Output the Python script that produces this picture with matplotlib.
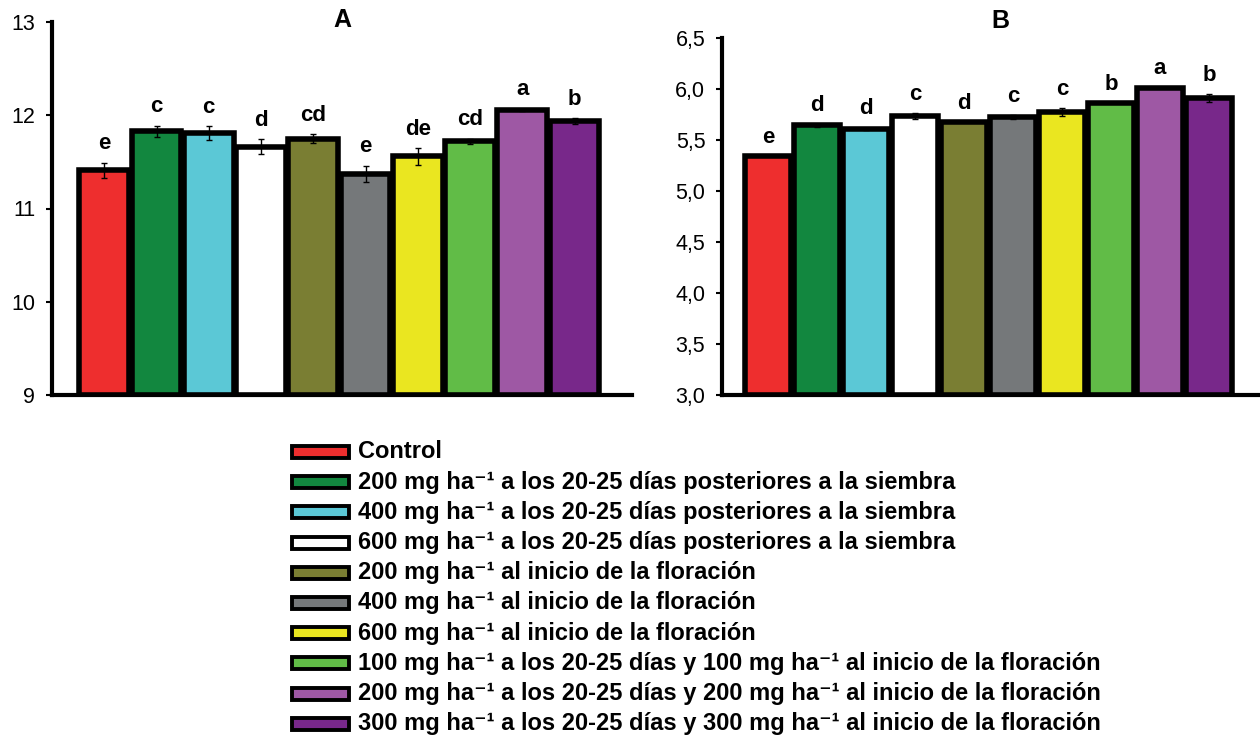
import matplotlib
matplotlib.use("Agg")
import matplotlib.pyplot as plt
from matplotlib.patches import Rectangle
from matplotlib.ticker import FuncFormatter
import numpy as np

plt.rcParams['font.family'] = ['Liberation Sans', 'DejaVu Sans']

# ---------- data ----------
treatments = [
    "Control",
    "200 mg ha⁻¹ a los 20-25 días posteriores a la siembra",
    "400 mg ha⁻¹ a los 20-25 días posteriores a la siembra",
    "600 mg ha⁻¹ a los 20-25 días posteriores a la siembra",
    "200 mg ha⁻¹ al inicio de la floración",
    "400 mg ha⁻¹ al inicio de la floración",
    "600 mg ha⁻¹ al inicio de la floración",
    "100 mg ha⁻¹ a los 20-25 días y 100 mg ha⁻¹ al inicio de la floración",
    "200 mg ha⁻¹ a los 20-25 días y 200 mg ha⁻¹ al inicio de la floración",
    "300 mg ha⁻¹ a los 20-25 días y 300 mg ha⁻¹ al inicio de la floración",
]
colors = ["#ee2e2e", "#12873f", "#5bc8d6", "#ffffff", "#7a7e33",
          "#75787a", "#eae620", "#61bc47", "#9e58a4", "#78288a"]

vals_a = [11.41, 11.83, 11.81, 11.66, 11.75, 11.37, 11.56, 11.72, 12.06, 11.94]
err_a = [0.08, 0.06, 0.075, 0.08, 0.05, 0.09, 0.09, 0.03, 0.01, 0.03]
letters_a = ["e", "c", "c", "d", "cd", "e", "de", "cd", "a", "b"]

vals_b = [5.34, 5.64, 5.61, 5.73, 5.67, 5.72, 5.77, 5.86, 6.01, 5.91]
err_b = [0.0, 0.01, 0.01, 0.03, 0.0, 0.02, 0.04, 0.0, 0.0, 0.04]
letters_b = ["e", "d", "d", "c", "d", "c", "c", "b", "a", "b"]

W, H = 1260, 740
fig = plt.figure(figsize=(12.6, 7.4), dpi=100)

def px_axes(l, r, t, b):
    return fig.add_axes([l / W, 1 - b / H, (r - l) / W, (b - t) / H])

ax_a = px_axes(52, 632, 22, 395)
ax_b = px_axes(722, 1260, 37.7, 395)

def draw(ax, vals, errs, letters, ylim, yticks, xlim, fmt):
    x = np.arange(len(vals))
    ax.bar(x, [v - ylim[0] for v in vals], bottom=ylim[0], width=0.95,
           color=colors, edgecolor="black", linewidth=4.0, zorder=2)
    ax.errorbar(x, vals, yerr=errs, fmt="none", ecolor="black",
                elinewidth=1.0, capsize=2.5, capthick=1.0, zorder=3)
    for xi, v, e, lab in zip(x, vals, errs, letters):
        ax.annotate(lab, (xi, v + e), xytext=(0, 6), textcoords="offset points",
                    ha="center", va="bottom", fontsize=16, fontweight="bold")
    ax.set_ylim(*ylim)
    ax.set_xlim(*xlim)
    ax.set_yticks(yticks)
    ax.yaxis.set_major_formatter(FuncFormatter(fmt))
    ax.set_xticks([])
    for s in ("top", "right"):
        ax.spines[s].set_visible(False)
    for s in ("left", "bottom"):
        ax.spines[s].set_linewidth(3)
    ax.tick_params(axis="y", length=4, width=1.5, pad=8, labelsize=15.5)

draw(ax_a, vals_a, err_a, letters_a, (9, 13), [9, 10, 11, 12, 13],
     (-1.0, 10.1), lambda v, p: f"{v:.0f}")
draw(ax_b, vals_b, err_b, letters_b, (3.0, 6.5),
     [3.0, 3.5, 4.0, 4.5, 5.0, 5.5, 6.0, 6.5], (-0.94, 10.04),
     lambda v, p: f"{v:.1f}".replace(".", ","))

fig.text(342 / W, 1 - 20 / H, "A", ha="center", va="center",
         fontsize=18, fontweight="bold")
fig.text(1000 / W, 1 - 21 / H, "B", ha="center", va="center",
         fontsize=18, fontweight="bold")

# legend, drawn by hand so rows stay evenly spaced
for i, (lab, c) in enumerate(zip(treatments, colors)):
    yc = 452 + i * 30.2
    fig.add_artist(Rectangle((292 / W, 1 - (yc + 6) / H), 57 / W, 12 / H,
                             transform=fig.transFigure, facecolor=c,
                             edgecolor="black", linewidth=2.8))
    fig.text(358 / W, 1 - yc / H, lab, ha="left", va="center",
             fontsize=17, fontweight="bold")

fig.savefig("out.png", dpi=100)
